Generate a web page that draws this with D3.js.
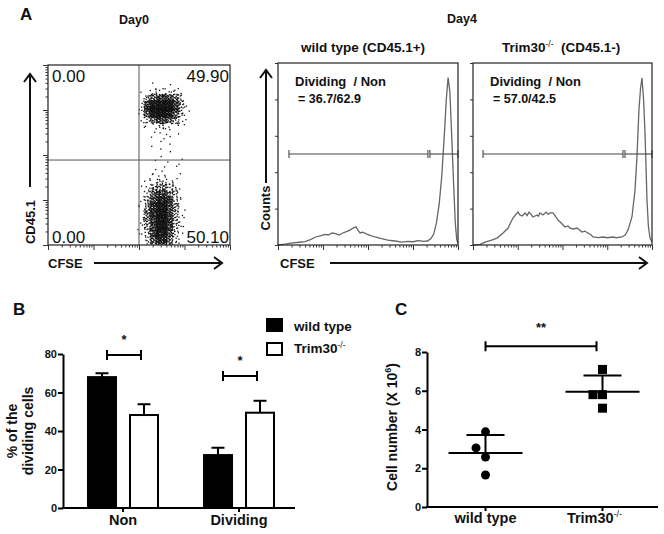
<!DOCTYPE html>
<html><head><meta charset="utf-8">
<script src="https://cdn.jsdelivr.net/npm/d3@7"></script>
<style>
body{margin:0;background:#fff}
svg{display:block}
text{font-family:'Liberation Sans',Arial,Helvetica,sans-serif;fill:#111}
</style>
</head><body>
<svg id="fig" width="664" height="534"></svg>
<script>
// ---------------- DATA ----------------
// Panel A, Day0 quadrant percentages (UL, UR, LL, LR)
const day0Quadrants = ["0.00", "49.90", "0.00", "50.10"];
// Day0 dot-plot density, read as a grid of event levels (rows top->bottom, cols left->right, right of the CFSE gate)
const day0DensityRows = [
  [0,0,1,1,1,1,0,0],
  [1,2,3,3,3,3,2,1],
  [2,6,8,9,9,7,4,1],
  [3,9,10,10,10,9,5,2],
  [3,9,10,10,10,8,4,1],
  [2,5,8,9,8,6,3,1],
  [1,2,3,3,3,2,1,0],
  [0,1,1,1,1,1,1,0],
  [0,1,1,0,1,1,0,0],
  [0,1,0,1,0,1,0,0],
  [0,0,1,0,1,0,0,0],
  [0,0,0,1,0,1,0,0],
  [0,0,0,0,0,1,1,0],
  [0,0,1,0,1,1,0,0],
  [0,1,1,1,1,1,0,0],
  [0,1,2,2,2,1,1,0],
  [1,2,3,4,3,2,1,0],
  [1,3,5,6,5,3,1,0],
  [1,4,7,8,7,4,2,0],
  [2,5,8,9,8,5,2,0],
  [2,6,8,10,8,5,2,0],
  [2,6,9,10,8,5,2,0],
  [2,6,8,10,8,5,2,0],
  [2,5,8,10,8,5,2,0],
  [2,5,8,10,8,4,2,0],
  [1,4,7,9,7,4,1,0],
  [1,3,6,8,6,3,1,0]
];
// Panel A, Day4 CFSE histograms (channel 0-100, % of max scale)
const wtHistX =      [0,4,7,12,15,18,21,24,26,28,30,32,34,36,38,40,41.7,43.3,44.5,45.6,47,49.4,51.5,53.9,57,61,65,69,72,75,78,81,83,85,86.5,88,89.5,91,92.5,93.5,94.5,95.5,96.5,97.5,98.5,99.3,100];
const wtHistCounts = [0,0.5,1,1.5,1.8,3,4.4,5.2,5.8,5.5,6.6,6.3,5.5,6.6,7.3,8.2,9.3,10,8,6.6,7,6,5.2,4.4,3.6,2.7,2.2,1.6,2,1.8,2.4,2,2.2,3.5,6,12,22,38,62,80,92,84,60,35,12,3,1];
const koHistX =      [0,4,6.7,10,13.4,16.8,19.6,22.3,25.1,26.2,27.4,29.1,30.2,31.3,32.4,33.5,35.8,36.5,37.4,39.1,40.8,42,43,44.7,46,47.5,49.5,51.4,53,54.2,56,58.1,60,60.9,62.5,64.2,66,67,70,72.6,75,78.2,80,83.2,85,86.6,88.8,90.5,91.6,92.7,93.6,94.4,95.3,96.1,97.2,98,98.9,100];
const koHistCounts = [0,0.3,1.6,2.5,3.8,6.6,9.3,14.8,18.1,16.5,15.9,17.6,16.2,18.1,16.8,15.4,16.5,15.8,17.6,16.5,18.1,16.8,17.6,17.6,15.8,13.7,11.8,9.9,10.5,9.3,8.8,9.3,7.8,7.1,7.6,6.6,5.5,4.4,4.1,4.4,4.0,4.4,4.0,4.4,5.5,8.2,15.4,30,48.4,74.2,86,91.8,80,61.5,24.7,10,3.8,1.6];
const wtGates = [[6.1, 83.3], [84.4, 100]];
const koGates = [[5.6, 83.8], [84.9, 100]];
const wtRatio = "= 36.7/62.9";
const koRatio = "= 57.0/42.5";

// Panel B
const divGroups = ["Non", "Dividing"];
const genotypes = ["wild type", "Trim30"];
const wtPercent = [68.0, 27.5];
const wtSem     = [2.0, 3.8];
const koPercent = [48.3, 49.5];
const koSem     = [5.6, 6.2];
const bTicks = [0, 20, 40, 60, 80];

// Panel C
const cellGroups = ["wild type", "Trim30"];
const wtCells = [3.88, 3.05, 2.58, 1.65];
const koCells = [7.1, 5.8, 5.8, 5.1];
const wtDodge = [0, -1, 0, 0];
const koDodge = [0, -1, 0, 0];
const cTicks = [0, 2, 4, 6, 8];

// ---------------- DRAWING ----------------
const svg = d3.select("#fig");
svg.append("rect").attr("width", 664).attr("height", 534).attr("fill", "#fff");

function txt(g, x, y, s, size, weight, anchor) {
  return g.append("text").attr("x", x).attr("y", y).text(s)
    .attr("font-size", size).attr("font-weight", weight || "bold")
    .attr("text-anchor", anchor || "start");
}
function arrowH(g, x1, x2, y) {
  g.append("line").attr("x1", x1).attr("x2", x2 - 1).attr("y1", y).attr("y2", y)
    .attr("stroke", "#111").attr("stroke-width", 2);
  g.append("path").attr("d", `M${x2 - 8},${y - 6}L${x2},${y}L${x2 - 8},${y + 6}`)
    .attr("fill", "none").attr("stroke", "#111").attr("stroke-width", 2);
}
function arrowV(g, x, y1, y2) { // y2 = tip (top)
  g.append("line").attr("x1", x).attr("x2", x).attr("y1", y1).attr("y2", y2 + 1)
    .attr("stroke", "#111").attr("stroke-width", 2);
  g.append("path").attr("d", `M${x - 6},${y2 + 8}L${x},${y2}L${x + 6},${y2 + 8}`)
    .attr("fill", "none").attr("stroke", "#111").attr("stroke-width", 2);
}
const isMajor = v => Math.abs(Math.log10(v) - Math.round(Math.log10(v))) < 1e-9;
function logAxis(g, scale, orient, pos) {
  const ax = (orient === "bottom" ? d3.axisBottom(scale) : d3.axisLeft(scale))
    .tickValues(scale.ticks()).tickFormat("").tickSizeOuter(0).tickSize(2.5);
  const a = g.append("g").attr("transform", orient === "bottom" ? `translate(0,${pos})` : `translate(${pos},0)`).call(ax);
  a.select(".domain").remove();
  a.selectAll(".tick line").attr("stroke", "#333")
    .attr(orient === "bottom" ? "y2" : "x2", d => (isMajor(d) ? 5 : 2.5) * (orient === "bottom" ? 1 : -1));
}

// Panel labels
txt(svg, 20, 20, "A", 17);
txt(svg, 13, 315, "B", 17);
txt(svg, 395, 315, "C", 17);

// ---- Day0 dot plot ----
const gA = svg.append("g");
txt(gA, 134, 24, "Day0", 12.5, "bold", "middle");
const sx = d3.scaleLinear().domain([0, 1000]).range([48, 230]);
const sy = d3.scaleLinear().domain([0, 1000]).range([245, 65]);
svg.append("clipPath").attr("id", "clipS").append("rect")
  .attr("x", 48).attr("y", 65).attr("width", 182).attr("height", 180);
const gridX0 = 500, cellW = 33, gridYTop = 889, cellH = 33.3;
const a1 = 0.7548776662466927, a2 = 0.5698402909980532;
let gi = 0;
const dots = [];
day0DensityRows.forEach((row, r) => row.forEach((lvl, c) => {
  const n = lvl === 0 ? 0 : Math.max(1, Math.round(lvl * lvl * 0.6));
  for (let i = 0; i < n; i++) {
    gi++;
    const u = -0.45 + 1.9 * ((0.5 + a1 * gi) % 1), v = -0.45 + 1.9 * ((0.5 + a2 * gi) % 1);
    dots.push([gridX0 + 8 + (c + u) * cellW, gridYTop - (r + v) * cellH]);
  }
}));
gA.append("g").attr("clip-path", "url(#clipS)").selectAll("rect").data(dots).join("rect")
  .attr("x", d => sx(d[0]) - 0.65).attr("y", d => sy(d[1]) - 0.65)
  .attr("width", 1.3).attr("height", 1.3).attr("fill", "#111");
gA.append("line").attr("x1", sx(500)).attr("x2", sx(500)).attr("y1", sy(0)).attr("y2", sy(1000))
  .attr("stroke", "#555").attr("stroke-width", 1);
gA.append("line").attr("x1", sx(0)).attr("x2", sx(1000)).attr("y1", sy(472)).attr("y2", sy(472))
  .attr("stroke", "#555").attr("stroke-width", 1);
gA.append("rect").attr("x", 48).attr("y", 65).attr("width", 182).attr("height", 180)
  .attr("fill", "none").attr("stroke", "#222").attr("stroke-width", 1.2);
const sLogX = d3.scaleLog().domain([1, 1e4]).range([48, 230]);
const sLogY = d3.scaleLog().domain([1, 1e4]).range([245, 65]);
logAxis(gA, sLogX, "bottom", 245);
logAxis(gA, sLogY, "left", 48);
txt(gA, 52, 82, day0Quadrants[0], 17, "normal").attr("fill", "#222");
txt(gA, 229, 82, day0Quadrants[1], 17, "normal", "end").attr("fill", "#222");
txt(gA, 52, 243, day0Quadrants[2], 17, "normal").attr("fill", "#222");
txt(gA, 229, 243, day0Quadrants[3], 17, "normal", "end").attr("fill", "#222");
arrowV(gA, 30, 187, 74);
txt(gA, 0, 0, "CD45.1", 13, "bold", "middle").attr("transform", "translate(35,222) rotate(-90)");
txt(gA, 48, 268, "CFSE", 13);
arrowH(gA, 94, 222, 263);

// ---- Day4 histograms ----
txt(svg, 462, 23, "Day4", 12.5, "bold", "middle");
function hist(x0, x1, xs, cs, gates, ratio) {
  const g = svg.append("g");
  const hx = d3.scaleLinear().domain([0, 100]).range([x0, x1]);
  const hy = d3.scaleLinear().domain([0, 100]).range([245, 63]);
  const line = d3.line().x((d, i) => hx(xs[i])).y(d => hy(d));
  g.append("path").attr("d", line(cs)).attr("fill", "none").attr("stroke", "#666").attr("stroke-width", 1.3);
  gates.forEach(([a, b]) => {
    g.append("line").attr("x1", hx(a)).attr("x2", hx(b)).attr("y1", hy(50)).attr("y2", hy(50))
      .attr("stroke", "#444").attr("stroke-width", 1.1);
    [a, b].forEach(v => g.append("line").attr("x1", hx(v)).attr("x2", hx(v))
      .attr("y1", hy(50) - 4).attr("y2", hy(50) + 4).attr("stroke", "#444").attr("stroke-width", 1.1));
  });
  g.append("rect").attr("x", x0).attr("y", 63).attr("width", x1 - x0).attr("height", 182)
    .attr("fill", "none").attr("stroke", "#222").attr("stroke-width", 1.2);
  const ly = d3.axisLeft(hy).tickValues([0, 20, 40, 60, 80, 100]).tickFormat("").tickSize(3).tickSizeOuter(0);
  const la = g.append("g").attr("transform", `translate(${x0},0)`).call(ly);
  la.select(".domain").remove();
  la.selectAll(".tick line").attr("stroke", "#333");
  logAxis(g, d3.scaleLog().domain([1, 1e4]).range([x0, x1]), "bottom", 245);
  txt(g, x0 + 17, 86, "Dividing  / Non", 13).style("white-space", "pre");
  txt(g, x0 + 20, 103, ratio, 12.5);
  return g;
}
const gW = hist(278, 458, wtHistX, wtHistCounts, wtGates, wtRatio);
txt(gW, 363, 52, "wild type (CD45.1+)", 13.5, "bold", "middle");
arrowV(gW, 266, 183, 70);
txt(gW, 0, 0, "Counts", 13, "bold", "middle").attr("transform", "translate(270,208) rotate(-90)");
txt(gW, 280, 268, "CFSE", 13);
arrowH(gW, 330, 647, 263);
const gK = hist(473, 652, koHistX, koHistCounts, koGates, koRatio);
const tt = txt(gK, 502, 52, "Trim30", 13.5).style("white-space", "pre");
tt.append("tspan").text("-/-").attr("font-size", 8.5).attr("dy", -5).attr("font-weight", "normal");
tt.append("tspan").text("  (CD45.1-)").attr("dy", 5);

// ---- Panel B ----
const gB = svg.append("g");
const bx = d3.scalePoint().domain(divGroups).range([65, 297]).padding(0.5);
const bsub = d3.scaleBand().domain(genotypes).range([-36, 36]).paddingInner(0.286);
const by = d3.scaleLinear().domain([0, 80]).range([508, 354]);
const bData = [];
divGroups.forEach((grp, i) => {
  bData.push({ grp, gen: genotypes[0], v: wtPercent[i], e: wtSem[i] });
  bData.push({ grp, gen: genotypes[1], v: koPercent[i], e: koSem[i] });
});
const bxPos = d => bx(d.grp) + bsub(d.gen);
gB.selectAll("line.err").data(bData).join("line").attr("class", "err")
  .attr("x1", d => bxPos(d) + bsub.bandwidth() / 2).attr("x2", d => bxPos(d) + bsub.bandwidth() / 2)
  .attr("y1", d => by(d.v)).attr("y2", d => by(d.v + d.e)).attr("stroke", "#000").attr("stroke-width", 2);
gB.selectAll("line.cap").data(bData).join("line").attr("class", "cap")
  .attr("x1", d => bxPos(d) + bsub.bandwidth() / 2 - 6.5).attr("x2", d => bxPos(d) + bsub.bandwidth() / 2 + 6.5)
  .attr("y1", d => by(d.v + d.e)).attr("y2", d => by(d.v + d.e)).attr("stroke", "#000").attr("stroke-width", 2);
gB.selectAll("rect.bar").data(bData).join("rect").attr("class", "bar")
  .attr("x", d => bxPos(d) + 1).attr("width", bsub.bandwidth() - 2)
  .attr("y", d => by(d.v)).attr("height", d => by(0) - by(d.v))
  .attr("fill", d => d.gen === genotypes[0] ? "#000" : "#fff")
  .attr("stroke", "#000").attr("stroke-width", 2);
const byAxis = gB.append("g").attr("transform", "translate(63,0)")
  .call(d3.axisLeft(by).tickValues(bTicks).tickSize(5).tickSizeOuter(0));
byAxis.select(".domain").attr("stroke-width", 2);
byAxis.selectAll(".tick line").attr("stroke-width", 2);
byAxis.selectAll(".tick text").attr("font-size", 11).attr("font-weight", "bold").attr("x", -6).attr("fill", "#111");
gB.append("line").attr("x1", 62).attr("x2", 295).attr("y1", 508).attr("y2", 508).attr("stroke", "#000").attr("stroke-width", 2);
divGroups.forEach(grp => {
  gB.append("line").attr("x1", bx(grp)).attr("x2", bx(grp)).attr("y1", 508).attr("y2", 512).attr("stroke", "#000").attr("stroke-width", 2);
  txt(gB, bx(grp), 525, grp, 14.5, "bold", "middle");
});
// significance brackets
const bSig = [79.5, 68.6];
divGroups.forEach((grp, i) => {
  const yb = by(bSig[i]), xa = bx(grp) - 16, xb = bx(grp) + 18;
  gB.append("path").attr("d", `M${xa},${yb - 5}V${yb + 5}M${xa},${yb}H${xb}M${xb},${yb - 5}V${yb + 5}`)
    .attr("fill", "none").attr("stroke", "#000").attr("stroke-width", 2);
  txt(gB, bx(grp) + 1, yb - 11, "*", 13, "bold", "middle");
});
txt(gB, 0, 0, "% of the", 14, "bold", "middle").attr("transform", "translate(17,431) rotate(-90)");
txt(gB, 0, 0, "dividing cells", 14, "bold", "middle").attr("transform", "translate(33,431) rotate(-90)");
// legend
gB.append("rect").attr("x", 267).attr("y", 319).attr("width", 15).attr("height", 12).attr("fill", "#000").attr("stroke", "#000").attr("stroke-width", 2);
gB.append("rect").attr("x", 267).attr("y", 343).attr("width", 15).attr("height", 12).attr("fill", "#fff").attr("stroke", "#000").attr("stroke-width", 2);
txt(gB, 294, 331, genotypes[0], 13.5);
const lt = txt(gB, 294, 353, genotypes[1], 13.5);
lt.append("tspan").text("-/-").attr("font-size", 8.5).attr("dy", -5).attr("font-weight", "normal");

// ---- Panel C ----
const gC = svg.append("g");
const cx = d3.scalePoint().domain(cellGroups).range([427, 661]).padding(0.5);
const cy = d3.scaleLinear().domain([0, 8]).range([507, 352]);
const cyAxis = gC.append("g").attr("transform", "translate(427,0)")
  .call(d3.axisLeft(cy).tickValues(cTicks).tickSize(5).tickSizeOuter(0));
cyAxis.select(".domain").attr("stroke-width", 2);
cyAxis.selectAll(".tick line").attr("stroke-width", 2);
cyAxis.selectAll(".tick text").attr("font-size", 11).attr("font-weight", "bold").attr("x", -6).attr("fill", "#111");
gC.append("line").attr("x1", 426).attr("x2", 658).attr("y1", 507).attr("y2", 507).attr("stroke", "#000").attr("stroke-width", 2);
cellGroups.forEach(grp => {
  gC.append("line").attr("x1", cx(grp)).attr("x2", cx(grp)).attr("y1", 507).attr("y2", 511).attr("stroke", "#000").attr("stroke-width", 2);
});
txt(gC, cx(cellGroups[0]), 523, cellGroups[0], 14.5, "bold", "middle");
const cl = txt(gC, cx(cellGroups[1]) - 8, 523, cellGroups[1], 14.5, "bold", "middle");
cl.append("tspan").text("-/-").attr("font-size", 9).attr("dy", -6).attr("font-weight", "normal");
[[cellGroups[0], wtCells, wtDodge], [cellGroups[1], koCells, koDodge]].forEach(([grp, vals, dodge], k) => {
  const m = d3.mean(vals), sd = d3.deviation(vals), c0 = cx(grp);
  gC.append("line").attr("x1", c0 - 37).attr("x2", c0 + 37).attr("y1", cy(m)).attr("y2", cy(m)).attr("stroke", "#000").attr("stroke-width", 2);
  gC.append("line").attr("x1", c0 - 19).attr("x2", c0 + 19).attr("y1", cy(m + sd)).attr("y2", cy(m + sd)).attr("stroke", "#000").attr("stroke-width", 2);
  gC.append("line").attr("x1", c0).attr("x2", c0).attr("y1", cy(m)).attr("y2", cy(m + sd)).attr("stroke", "#000").attr("stroke-width", 2);
  vals.forEach((v, i) => {
    const px = c0 + dodge[i] * 9.5, py = cy(v);
    if (k === 0) gC.append("circle").attr("cx", px).attr("cy", py).attr("r", 4.5).attr("fill", "#000");
    else gC.append("rect").attr("x", px - 4.5).attr("y", py - 4.5).attr("width", 9).attr("height", 9).attr("fill", "#000");
  });
});
const cSig = 8.3, ya = cy(cSig), xa = cx(cellGroups[0]), xb = cx(cellGroups[1]) - 6;
gC.append("path").attr("d", `M${xa},${ya - 5}V${ya + 5}M${xa},${ya}H${xb}M${xb},${ya - 5}V${ya + 5}`)
  .attr("fill", "none").attr("stroke", "#000").attr("stroke-width", 2);
txt(gC, (xa + xb) / 2, ya - 14, "**", 13, "bold", "middle");
const yl = txt(gC, 0, 0, "Cell number (X 10", 14, "bold", "middle").attr("transform", "translate(397,427) rotate(-90)");
yl.append("tspan").text("6").attr("font-size", 9).attr("dy", -6);
yl.append("tspan").text(")").attr("dy", 6);
</script>
</body></html>
